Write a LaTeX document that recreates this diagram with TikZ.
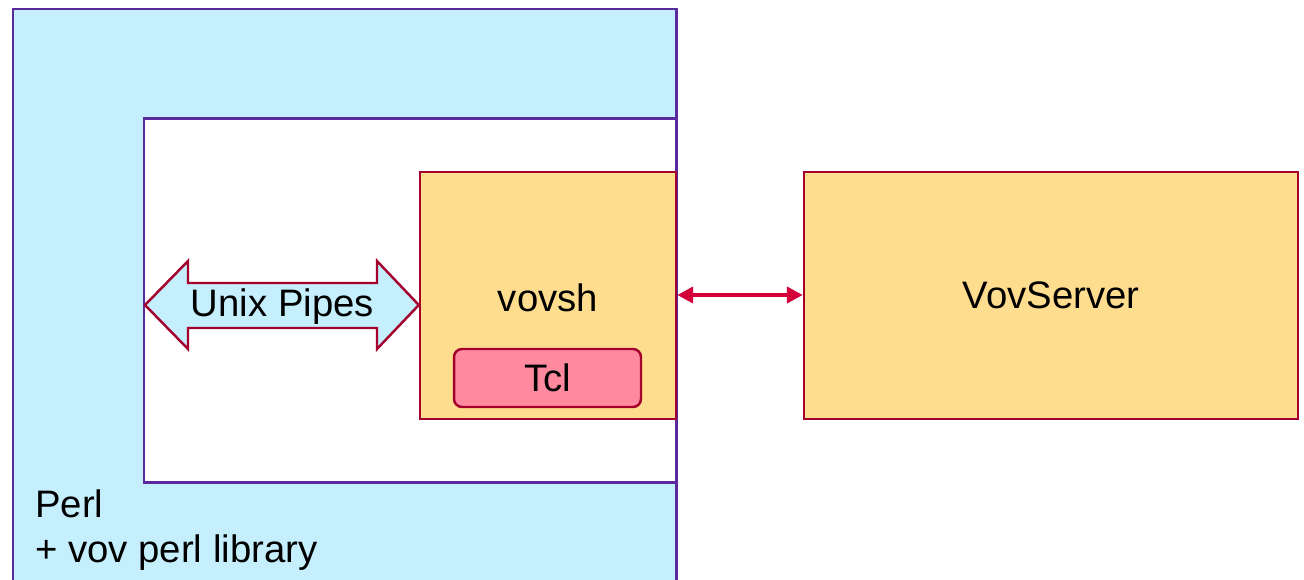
\documentclass[tikz,border=0pt]{standalone}
\usepackage{fontspec}
\setmainfont{Liberation Sans}
\usetikzlibrary{arrows.meta}

\definecolor{perlblue}{HTML}{C6EFFD}
\definecolor{perledge}{HTML}{5B2A9E}
\definecolor{vovfill}{HTML}{FFDD8E}
\definecolor{vovedge}{HTML}{A3002E}
\definecolor{tclfill}{HTML}{FF8AA0}
\definecolor{linkred}{HTML}{D4003A}

\tikzset{
  vovbox/.style = {draw = vovedge, fill = vovfill, line width = 1.4pt, minimum height = 4.94cm},
  label20/.style = {font = \fontsize{21.8}{25}\selectfont, inner sep = 0pt}
}

\begin{document}
\begin{tikzpicture}[x = 0.02cm, y = -0.02cm]
\clip (0,0) rectangle (1304,579);
\fill[white] (0,0) rectangle (1304,579);

% perl process with the vovsh pipe area cut out
\draw[perledge, fill = perlblue, line width = 1.7pt] (13,9) rectangle (676,600);
\draw[perledge, fill = white, line width = 1.7pt] (144,118) rectangle (676,482);

\node[label20, anchor = base west] (perl) at (35,517) {Perl};
\node[label20, anchor = base west] (perllib) at (35,562) {+ vov perl library};

% vovsh and the server
\node[vovbox, minimum width = 5.12cm] (vovsh) at (548,295.5) {};
\node[label20] at (548,298) {vovsh};
\node[draw = vovedge, fill = tclfill, line width = 1.4pt, rounded corners = 0.16cm,
      minimum width = 3.74cm, minimum height = 1.16cm, label20] (tcl) at (547.5,378) {Tcl};

\node[vovbox, minimum width = 9.88cm, label20] (server) at (1051,295.5) {VovServer};

\draw[linkred, line width = 2.4pt, {Triangle[length = 0.32cm, width = 0.32cm]}-{Triangle[length = 0.32cm, width = 0.32cm]}]
   (vovsh.east |- 0,295) -- (server.west |- 0,295);

% unix pipes between perl and vovsh
\coordinate (pipeL) at (145,305);
\coordinate (pipeR) at (vovsh.west |- pipeL);
\draw[vovedge, fill = perlblue, line width = 1.4pt]
   (pipeL) -- (188,261) -- (188,283) -- (377,283) -- (377,261) -- (pipeR)
   -- (377,349) -- (377,328) -- (188,328) -- (188,349) -- cycle;
\node[label20] (pipes) at (282.5,307) {Unix Pipes};

\end{tikzpicture}
\end{document}
